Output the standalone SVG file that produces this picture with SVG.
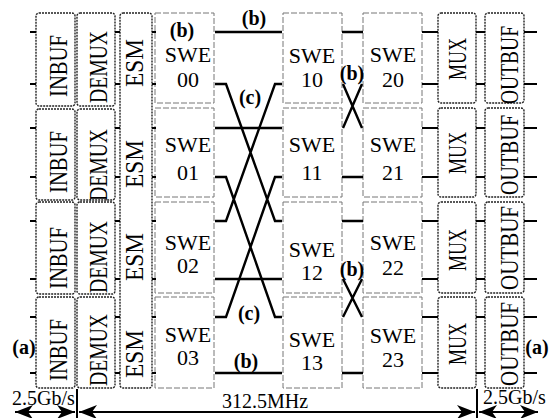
<svg xmlns="http://www.w3.org/2000/svg" width="551" height="418" viewBox="0 0 551 418">
<style>
.dot{fill:#fff;stroke:#222;stroke-width:1.4;stroke-dasharray:2 1}
.swe{fill:#fff;stroke:#777;stroke-width:1;stroke-dasharray:6 2}
.t{font-family:"Liberation Serif","Times New Roman",serif;font-size:22px;fill:#000}
.r{font-size:25px}
.lbl{font-weight:bold;font-size:20px}
.w{stroke:#000;stroke-width:2.4;fill:none}
.tk{stroke:#000;stroke-width:2}
.ar{stroke:#000;stroke-width:2}
</style>
<defs>
<marker id="ah" markerUnits="userSpaceOnUse" markerWidth="20" markerHeight="14" refX="18" refY="7" orient="auto-start-reverse">
<path d="M0,0 L18,7 L0,14 L5,7 z" fill="#000"/>
</marker>
</defs>
<rect width="551" height="418" fill="#fff"/>

<g id="inbuf">
<rect class="dot" x="36" y="13" width="39" height="93" rx="3"/>
<rect class="dot" x="36" y="109" width="39" height="91" rx="3"/>
<rect class="dot" x="36" y="202" width="39" height="92" rx="3"/>
<rect class="dot" x="36" y="297" width="39" height="91" rx="3"/>
<text class="t r" text-anchor="middle" transform="translate(67,66) rotate(-90)" textLength="62" lengthAdjust="spacingAndGlyphs">INBUF</text>
<text class="t r" text-anchor="middle" transform="translate(67,162) rotate(-90)" textLength="62" lengthAdjust="spacingAndGlyphs">INBUF</text>
<text class="t r" text-anchor="middle" transform="translate(67,258) rotate(-90)" textLength="62" lengthAdjust="spacingAndGlyphs">INBUF</text>
<text class="t r" text-anchor="middle" transform="translate(67,350) rotate(-90)" textLength="62" lengthAdjust="spacingAndGlyphs">INBUF</text>
</g>
<g id="demux">
<rect class="dot" x="77" y="13" width="38" height="93" rx="3"/>
<rect class="dot" x="77" y="109" width="38" height="91" rx="3"/>
<rect class="dot" x="77" y="202" width="38" height="92" rx="3"/>
<rect class="dot" x="77" y="297" width="38" height="91" rx="3"/>
<text class="t r" text-anchor="middle" transform="translate(107,67) rotate(-90)" textLength="72" lengthAdjust="spacingAndGlyphs">DEMUX</text>
<text class="t r" text-anchor="middle" transform="translate(107,165) rotate(-90)" textLength="72" lengthAdjust="spacingAndGlyphs">DEMUX</text>
<text class="t r" text-anchor="middle" transform="translate(107,257) rotate(-90)" textLength="72" lengthAdjust="spacingAndGlyphs">DEMUX</text>
<text class="t r" text-anchor="middle" transform="translate(107,350) rotate(-90)" textLength="72" lengthAdjust="spacingAndGlyphs">DEMUX</text>
</g>
<g id="esm">
<rect class="dot" x="120" y="13" width="32" height="375" rx="3"/>
<text class="t r" text-anchor="middle" transform="translate(143,63) rotate(-90)" textLength="48" lengthAdjust="spacingAndGlyphs">ESM</text>
<text class="t r" text-anchor="middle" transform="translate(143,164) rotate(-90)" textLength="48" lengthAdjust="spacingAndGlyphs">ESM</text>
<text class="t r" text-anchor="middle" transform="translate(143,257) rotate(-90)" textLength="48" lengthAdjust="spacingAndGlyphs">ESM</text>
<text class="t r" text-anchor="middle" transform="translate(143,354) rotate(-90)" textLength="48" lengthAdjust="spacingAndGlyphs">ESM</text>
</g>

<g id="swe00"><rect class="swe" x="155" y="13" width="59" height="90"/><text class="t" x="188" y="62" text-anchor="middle">SWE</text><text class="t" x="188" y="87" text-anchor="middle">00</text></g>
<g id="swe01"><rect class="swe" x="155" y="108" width="59" height="89"/><text class="t" x="188" y="152" text-anchor="middle">SWE</text><text class="t" x="188" y="180" text-anchor="middle">01</text></g>
<g id="swe02"><rect class="swe" x="155" y="202" width="59" height="91"/><text class="t" x="188" y="250" text-anchor="middle">SWE</text><text class="t" x="188" y="273" text-anchor="middle">02</text></g>
<g id="swe03"><rect class="swe" x="155" y="297" width="59" height="91"/><text class="t" x="188" y="342" text-anchor="middle">SWE</text><text class="t" x="188" y="365" text-anchor="middle">03</text></g>

<g id="swe10"><rect class="swe" x="283" y="13" width="59" height="90"/><text class="t" x="312" y="63" text-anchor="middle">SWE</text><text class="t" x="312" y="87" text-anchor="middle">10</text></g>
<g id="swe11"><rect class="swe" x="283" y="108" width="59" height="89"/><text class="t" x="312" y="152" text-anchor="middle">SWE</text><text class="t" x="312" y="180" text-anchor="middle">11</text></g>
<g id="swe12"><rect class="swe" x="283" y="202" width="59" height="91"/><text class="t" x="312" y="257" text-anchor="middle">SWE</text><text class="t" x="312" y="280" text-anchor="middle">12</text></g>
<g id="swe13"><rect class="swe" x="283" y="297" width="59" height="91"/><text class="t" x="312" y="347" text-anchor="middle">SWE</text><text class="t" x="312" y="370" text-anchor="middle">13</text></g>

<g id="swe20"><rect class="swe" x="363" y="13" width="59" height="90"/><text class="t" x="393" y="62" text-anchor="middle">SWE</text><text class="t" x="393" y="87" text-anchor="middle">20</text></g>
<g id="swe21"><rect class="swe" x="363" y="108" width="59" height="89"/><text class="t" x="393" y="152" text-anchor="middle">SWE</text><text class="t" x="393" y="180" text-anchor="middle">21</text></g>
<g id="swe22"><rect class="swe" x="363" y="202" width="59" height="91"/><text class="t" x="393" y="250" text-anchor="middle">SWE</text><text class="t" x="393" y="275" text-anchor="middle">22</text></g>
<g id="swe23"><rect class="swe" x="363" y="297" width="59" height="91"/><text class="t" x="393" y="343" text-anchor="middle">SWE</text><text class="t" x="393" y="367" text-anchor="middle">23</text></g>

<g id="mux">
<rect class="dot" x="438" y="13" width="38" height="90" rx="3"/>
<rect class="dot" x="438" y="108" width="38" height="89" rx="3"/>
<rect class="dot" x="438" y="202" width="38" height="91" rx="3"/>
<rect class="dot" x="438" y="297" width="38" height="91" rx="3"/>
<text class="t r" text-anchor="middle" transform="translate(466,59) rotate(-90)" textLength="42" lengthAdjust="spacingAndGlyphs">MUX</text>
<text class="t r" text-anchor="middle" transform="translate(466,153) rotate(-90)" textLength="42" lengthAdjust="spacingAndGlyphs">MUX</text>
<text class="t r" text-anchor="middle" transform="translate(466,250) rotate(-90)" textLength="42" lengthAdjust="spacingAndGlyphs">MUX</text>
<text class="t r" text-anchor="middle" transform="translate(466,344) rotate(-90)" textLength="42" lengthAdjust="spacingAndGlyphs">MUX</text>
</g>
<g id="outbuf">
<rect class="dot" x="485" y="13" width="39" height="90" rx="3"/>
<rect class="dot" x="485" y="108" width="39" height="89" rx="3"/>
<rect class="dot" x="485" y="202" width="39" height="91" rx="3"/>
<rect class="dot" x="485" y="297" width="39" height="91" rx="3"/>
<text class="t r" text-anchor="middle" transform="translate(518,65) rotate(-90)" textLength="78" lengthAdjust="spacingAndGlyphs">OUTBUF</text>
<text class="t r" text-anchor="middle" transform="translate(518,155) rotate(-90)" textLength="80" lengthAdjust="spacingAndGlyphs">OUTBUF</text>
<text class="t r" text-anchor="middle" transform="translate(518,248) rotate(-90)" textLength="84" lengthAdjust="spacingAndGlyphs">OUTBUF</text>
<text class="t r" text-anchor="middle" transform="translate(518,344) rotate(-90)" textLength="84" lengthAdjust="spacingAndGlyphs">OUTBUF</text>
</g>

<g id="connectors">
<path class="tk" d="M30,32H36M30,84H36M30,128H36M30,177H36M30,221H36M30,279H36M30,317H36M30,373H36"/>
<path class="tk" d="M115,32H120M115,84H120M115,128H120M115,177H120M115,221H120M115,279H120M115,317H120M115,373H120"/>
<path class="tk" d="M152,32H156M152,84H156M152,128H156M152,177H156M152,221H156M152,279H156M152,317H156M152,373H156"/>
<path class="w" d="M215,32H282M215,128H282M215,279H282M215,373H282"/>
<path class="w" d="M215,84H226L275,221H282M282,84H275L226,221H215M215,177H226L275,317H282M282,177H275L226,317H215"/>
<path class="w" d="M342,32H363M342,177H363M342,221H363M342,373H363"/>
<path class="w" d="M343,84L362,128M362,84L343,128M343,279L362,317M362,279L343,317"/>
<path class="tk" d="M422,32H438M422,84H438M422,128H438M422,177H438M422,221H438M422,279H438M422,317H438M422,373H438"/>
<path class="tk" d="M476,32H485M476,84H485M476,128H485M476,177H485M476,221H485M476,279H485M476,317H485M476,373H485"/>
<path class="tk" d="M524,32H537M524,84H537M524,128H537M524,177H537M524,221H537M524,279H537M524,317H537M524,373H537"/>
</g>

<g id="labels">
<text class="t lbl" x="254" y="25" text-anchor="middle">(b)</text>
<text class="t lbl" x="182" y="37" text-anchor="middle">(b)</text>
<text class="t lbl" x="250" y="104" text-anchor="middle">(c)</text>
<text class="t lbl" x="352" y="80" text-anchor="middle">(b)</text>
<text class="t lbl" x="352" y="276" text-anchor="middle">(b)</text>
<text class="t lbl" x="249" y="320" text-anchor="middle">(c)</text>
<text class="t lbl" x="246" y="368" text-anchor="middle">(b)</text>
<text class="t lbl" x="24" y="354" text-anchor="middle">(a)</text>
<text class="t lbl" x="537" y="354" text-anchor="middle">(a)</text>
</g>

<g id="rates">
<line class="ar" x1="77" y1="389" x2="77" y2="418"/>
<line class="ar" x1="477" y1="389" x2="477" y2="418"/>
<line class="ar" x1="15" y1="412" x2="75" y2="412" marker-start="url(#ah)" marker-end="url(#ah)"/>
<line class="ar" x1="79" y1="412" x2="475" y2="412" marker-start="url(#ah)" marker-end="url(#ah)"/>
<line class="ar" x1="479" y1="412" x2="538" y2="412" marker-start="url(#ah)" marker-end="url(#ah)"/>
<text class="t" x="12" y="405" style="font-size:20px">2.5Gb/s</text>
<text class="t" x="222" y="408" style="font-size:20px">312.5MHz</text>
<text class="t" x="483" y="404" style="font-size:20px">2.5Gb/s</text>
</g>
</svg>
